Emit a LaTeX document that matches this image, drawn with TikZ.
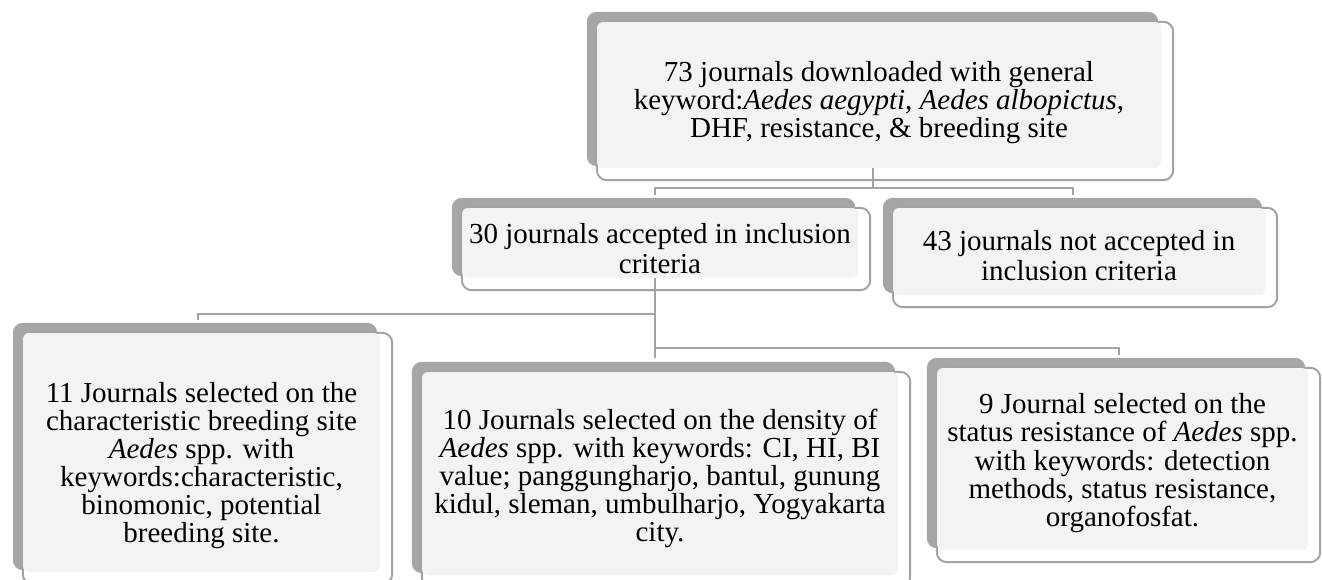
\documentclass[tikz,border=0pt]{standalone}
\usepackage{fontspec}
\setmainfont{Liberation Serif}
\usepackage{tikz}
\usetikzlibrary{calc,backgrounds}
\definecolor{boxfill}{HTML}{F3F3F3}
\definecolor{shadowgray}{HTML}{A6A6A6}
\definecolor{rimgray}{HTML}{A3A3A3}
\tikzset{
  jbox/.style={fill=boxfill,rounded corners=6pt,inner sep=0pt},
  rim/.style={draw=rimgray,fill=white,line width=2pt,rounded corners=10pt},
  link/.style={draw=rimgray,line width=2pt},
}
% gray block up-left and open rim down-right of a box
\newcommand{\boxbacking}[1]{%
  \fill[shadowgray,rounded corners=10pt] ($(#1.north west)+(-10,-10)$) rectangle ($(#1.south east)+(-3,-2)$);
  \draw[rim] (#1.north west) rectangle ($(#1.south east)+(12,12)$);}
% centred lines, set a little lower than the middle of the box
\newcommand{\boxtext}[3]{\raisebox{-#1}[\height][\depth]{%
  \fontsize{29}{#2}\selectfont\begin{tabular}{@{}c@{}}#3\end{tabular}}}

\begin{document}
\begin{tikzpicture}[x=1pt,y=-1pt]
\useasboundingbox (0,0) rectangle (1322,579);
\node[jbox,minimum width=564,minimum height=146] (total) at (879,95)
  {\boxtext{8.5pt}{27.5pt}{73 journals downloaded with general\\keyword:\textit{Aedes aegypti}, \textit{Aedes albopictus},\\DHF, resistance, \& breeding site}};
\node[jbox,minimum width=396,minimum height=70] (accepted) at (660,243)
  {\boxtext{9pt}{30pt}{30 journals accepted in inclusion\\criteria}};
\node[jbox,minimum width=372,minimum height=87] (rejected) at (1079,251.5)
  {\boxtext{7.5pt}{30pt}{43 journals not accepted in\\inclusion criteria}};
\node[jbox,minimum width=357,minimum height=239] (breeding) at (201.5,452.5)
  {\boxtext{14pt}{26.8pt}{11 Journals selected on the\\characteristic breeding site\\\textit{Aedes} spp. with\\keywords:characteristic,\\binomonic, potential\\breeding site.}};
\node[jbox,minimum width=476,minimum height=203] (density) at (660,473.5)
  {\boxtext{5.5pt}{27pt}{10 Journals selected on the density of\\\textit{Aedes} spp. with keywords: CI, HI, BI\\value; panggungharjo, bantul, gunung\\kidul, sleman, umbulharjo, Yogyakarta\\city.}};
\node[jbox,minimum width=371,minimum height=182] (resist) at (1122.5,459)
  {\boxtext{5pt}{27pt}{9 Journal selected on the\\status resistance of \textit{Aedes} spp.\\with keywords: detection\\methods, status resistance,\\organofosfat.}};

\begin{scope}[on background layer]
\boxbacking{total}
\boxbacking{accepted}
\boxbacking{rejected}
\boxbacking{breeding}
\boxbacking{density}
\boxbacking{resist}
\end{scope}

\coordinate (forkT) at ($(total.south)+(-6,20)$);
\coordinate (forkL) at ($(accepted.south)+(-5,36)$);
\coordinate (forkR) at ($(accepted.south)+(-5,70)$);
\draw[link] ([xshift=-6pt]total.south) -- (forkT);
\draw[link] (forkT) -| ([xshift=-5pt,yshift=13pt]accepted.north);
\draw[link] (forkT) -| ([xshift=-6pt,yshift=13pt]rejected.north);
\draw[link] ([xshift=-5pt]accepted.south) -- ([xshift=-5pt,yshift=14pt]density.north);
\draw[link] (forkL) -| ([xshift=-4pt,yshift=13pt]breeding.north);
\draw[link] (forkR) -| ([xshift=-4pt,yshift=13pt]resist.north);
\end{tikzpicture}
\end{document}
